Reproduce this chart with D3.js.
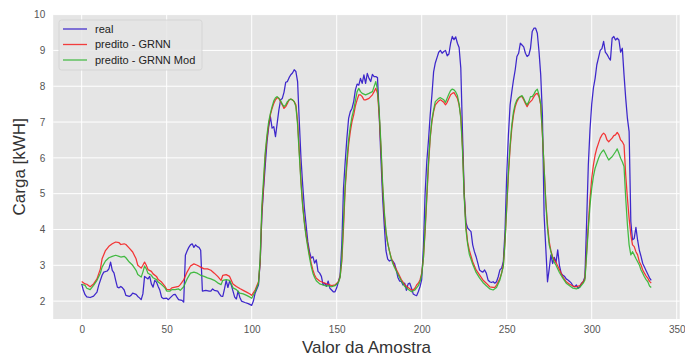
<!DOCTYPE html>
<html>
<head>
<meta charset="utf-8">
<script src="https://cdn.jsdelivr.net/npm/d3@7"></script>
<style>
  html, body { margin: 0; padding: 0; background: #ffffff; }
  svg { display: block; font-family: "Liberation Sans", Arial, sans-serif; }
</style>
</head>
<body>
<svg id="chart" width="685" height="358"></svg>
<script>
// Measured load (real) and the two GRNN forecasts, as [sample, kWh] pairs
const real = [[0,2.48],[1,2.3],[2,2.18],[3,2.12],[5,2.1],[7,2.14],[9,2.25],[10,2.44],[12,2.72],[13,2.81],[15,2.84],[16,2.9],[17,3.09],[18,2.86],[19,2.79],[20,2.58],[21,2.39],[22,2.37],[23,2.41],[24,2.37],[25,2.31],[26,2.16],[28,2.13],[29,2.16],[30,2.22],[32,2.19],[33,2.13],[34,2.09],[35,2.04],[36,2.2],[37,2.69],[38,2.65],[39,2.62],[40,2.69],[41,2.48],[42,2.39],[43,2.58],[44,2.53],[45,2.41],[46,2.3],[47,2.11],[48,2.07],[50,2.08],[51,2.04],[52,2.09],[54,2.18],[55,2.19],[56,2.11],[57,2.04],[59,2.02],[60,1.97],[61,3.28],[62,3.4],[63,3.5],[64,3.57],[65,3.6],[66,3.5],[67,3.57],[68,3.52],[69,3.5],[70,3.42],[71,2.28],[73,2.3],[75,2.28],[76,2.28],[77,2.34],[78,2.3],[80,2.28],[81,2.2],[82,2.14],[83,2.13],[84,2.34],[85,2.58],[86,2.38],[87,2.56],[88,2.45],[89,2.28],[90,2.11],[91,2.06],[92,2.28],[93,2.11],[94,2.0],[96,1.96],[98,1.93],[100,1.88],[101,2.0],[102,2.22],[104,2.45],[105,3.1],[106,4.4],[107,5.15],[108,5.8],[109,6.45],[110,6.87],[111,7.15],[112,6.83],[113,6.87],[114,6.59],[115,6.97],[116,7.34],[117,7.62],[118,7.66],[119,7.83],[120,8.11],[121,8.13],[122,8.24],[123,8.32],[124,8.37],[125,8.46],[126,8.41],[127,8.13],[128,7.01],[129,5.99],[130,5.24],[131,4.59],[132,4.13],[133,3.66],[134,3.38],[135,3.2],[136,3.24],[137,3.06],[138,3.15],[139,2.83],[140,2.78],[141,2.69],[142,2.45],[143,2.5],[144,2.41],[145,2.56],[146,2.36],[147,2.31],[148,2.26],[149,2.26],[150,2.37],[151,2.54],[152,2.72],[153,3.57],[154,5.15],[155,5.89],[156,6.55],[157,7.1],[158,7.29],[159,7.38],[160,7.57],[161,7.9],[162,8.06],[163,8.03],[164,8.22],[165,8.08],[166,8.32],[167,8.08],[168,8.36],[169,8.22],[170,8.13],[171,8.33],[172,8.27],[173,8.27],[174,8.24],[175,7.2],[176,6.0],[177,4.9],[178,4.1],[179,3.4],[180,3.17],[181,3.12],[182,3.15],[183,3.12],[184,3.05],[185,2.88],[186,2.66],[187,2.56],[188,2.55],[189,2.45],[190,2.5],[191,2.3],[192,2.48],[193,2.5],[194,2.36],[195,2.2],[196,2.17],[197,2.15],[198,2.26],[199,2.4],[200,2.6],[201,3.5],[202,5.0],[203,5.9],[204,6.5],[205,7.2],[206,7.75],[207,8.4],[208,8.65],[209,8.8],[210,8.95],[211,9.0],[212,8.92],[213,8.97],[214,9.0],[215,8.85],[216,8.9],[217,9.2],[218,9.39],[219,9.3],[220,9.38],[221,9.2],[222,9.08],[223,8.5],[224,6.7],[225,5.0],[226,4.2],[227,4.04],[228,3.99],[229,3.94],[230,3.57],[231,3.38],[232,3.24],[233,3.06],[234,2.87],[235,2.83],[236,2.81],[237,2.87],[238,2.78],[239,2.59],[240,2.54],[241,2.52],[242,2.54],[243,2.5],[244,2.54],[245,2.68],[246,2.87],[247,2.92],[248,3.1],[249,3.94],[250,5.52],[251,6.64],[252,7.48],[253,7.85],[254,8.18],[255,8.46],[256,8.83],[257,8.92],[258,9.2],[259,9.15],[260,9.1],[261,8.92],[262,8.83],[263,8.87],[264,9.06],[265,9.53],[266,9.62],[267,9.62],[268,9.48],[269,8.97],[270,8.32],[271,7.2],[272,4.4],[273,3.47],[274,2.54],[275,2.9],[276,3.29],[277,3.05],[278,3.22],[279,3.08],[280,3.43],[281,3.0],[282,2.78],[283,2.72],[284,2.69],[285,2.62],[286,2.59],[287,2.55],[288,2.5],[289,2.42],[290,2.4],[291,2.45],[292,2.36],[293,2.4],[294,2.5],[295,2.54],[296,2.68],[297,4.2],[298,5.8],[299,6.8],[300,7.5],[301,7.95],[302,8.22],[303,8.6],[304,8.8],[305,9.0],[306,9.05],[307,9.25],[308,8.95],[309,8.89],[310,8.8],[311,8.73],[312,9.34],[313,9.39],[314,9.29],[315,9.34],[316,9.29],[317,8.95],[318,9.06],[319,8.32],[320,7.66],[321,7.1],[322,6.73],[323,4.22],[324,3.71],[325,3.75],[326,4.06],[327,3.7],[328,3.42],[329,3.25],[330,3.05],[331,2.95],[332,2.85],[333,2.75],[334,2.65],[335,2.58]];

const grnn = [[0,2.55],[2,2.48],[3,2.47],[5,2.4],[7,2.48],[9,2.62],[11,2.9],[12,3.18],[14,3.41],[16,3.53],[18,3.6],[20,3.65],[22,3.63],[23,3.58],[25,3.6],[26,3.58],[28,3.48],[30,3.37],[32,3.18],[33,3.0],[35,2.92],[36,3.0],[37,3.09],[38,3.0],[39,2.88],[41,2.83],[42,2.76],[44,2.69],[45,2.6],[47,2.53],[49,2.41],[50,2.33],[52,2.32],[53,2.37],[55,2.39],[57,2.41],[58,2.46],[60,2.59],[62,2.81],[64,2.98],[66,3.04],[68,3.0],[70,2.95],[72,2.9],[74,2.9],[76,2.86],[78,2.78],[80,2.69],[82,2.58],[83,2.72],[85,2.74],[87,2.69],[89,2.48],[91,2.41],[93,2.35],[95,2.3],[97,2.25],[99,2.2],[100,2.16],[102,2.31],[104,2.54],[105,3.1],[106,4.5],[107,5.24],[108,6.08],[109,6.55],[110,6.92],[111,7.2],[112,7.38],[113,7.52],[114,7.62],[115,7.68],[116,7.66],[117,7.57],[118,7.48],[119,7.38],[120,7.43],[121,7.52],[122,7.62],[123,7.64],[124,7.62],[125,7.57],[126,7.48],[127,7.01],[128,6.17],[129,5.34],[130,4.68],[131,4.22],[132,3.85],[133,3.57],[134,3.29],[135,3.06],[136,2.87],[137,2.73],[138,2.64],[140,2.56],[142,2.52],[144,2.48],[145,2.47],[147,2.43],[149,2.45],[151,2.54],[152,2.68],[153,3.1],[154,4.03],[155,5.15],[156,5.8],[157,6.36],[158,6.73],[159,7.01],[160,7.2],[161,7.45],[162,7.62],[163,7.76],[164,7.76],[165,7.71],[166,7.62],[167,7.62],[168,7.64],[169,7.66],[170,7.71],[171,7.76],[172,7.85],[173,7.94],[174,7.8],[175,7.2],[176,6.3],[177,5.2],[178,4.4],[179,3.9],[180,3.62],[181,3.4],[182,3.22],[183,3.1],[184,2.98],[186,2.8],[188,2.6],[190,2.46],[192,2.38],[194,2.31],[195,2.31],[196,2.36],[197,2.45],[198,2.5],[199,2.59],[200,2.78],[201,3.19],[202,3.94],[203,4.87],[204,5.8],[205,6.55],[206,7.01],[207,7.29],[208,7.48],[210,7.59],[211,7.62],[212,7.59],[213,7.55],[214,7.48],[215,7.55],[216,7.66],[217,7.76],[218,7.8],[219,7.82],[220,7.74],[221,7.66],[222,7.48],[223,7.15],[224,6.3],[225,5.0],[226,4.1],[227,3.65],[228,3.42],[230,3.1],[232,2.87],[234,2.73],[236,2.59],[238,2.5],[240,2.4],[242,2.38],[243,2.38],[244,2.45],[245,2.54],[246,2.64],[247,2.78],[248,3.01],[249,3.66],[250,4.59],[251,5.52],[252,6.27],[253,6.83],[254,7.2],[255,7.43],[256,7.57],[257,7.66],[258,7.71],[259,7.71],[260,7.62],[261,7.52],[262,7.43],[263,7.52],[264,7.57],[265,7.62],[266,7.71],[267,7.78],[268,7.8],[269,7.71],[270,7.48],[271,6.64],[272,5.71],[273,4.78],[274,4.13],[275,3.66],[276,3.4],[277,3.24],[278,3.15],[279,3.08],[281,2.88],[283,2.68],[285,2.54],[287,2.47],[289,2.42],[291,2.4],[293,2.43],[295,2.54],[296,2.63],[297,3.38],[298,4.13],[299,4.87],[300,5.43],[301,5.8],[302,6.08],[303,6.27],[304,6.41],[305,6.55],[306,6.64],[307,6.69],[308,6.64],[309,6.5],[310,6.45],[311,6.5],[312,6.55],[313,6.62],[314,6.64],[315,6.71],[316,6.64],[317,6.5],[318,6.45],[319,6.36],[320,5.52],[321,4.87],[322,4.31],[323,3.85],[324,3.57],[325,3.52],[326,3.38],[327,3.29],[328,3.1],[329,3.01],[330,2.87],[331,2.78],[332,2.7],[333,2.64],[334,2.55],[335,2.5]];

const grnnMod = [[0,2.47],[2,2.44],[3,2.36],[5,2.32],[7,2.44],[9,2.58],[11,2.78],[12,2.95],[14,3.12],[16,3.21],[18,3.25],[20,3.28],[22,3.25],[23,3.23],[25,3.25],[26,3.21],[28,3.09],[30,3.0],[32,2.86],[33,2.74],[35,2.67],[36,2.81],[37,2.98],[38,2.9],[39,2.78],[41,2.72],[42,2.65],[44,2.6],[45,2.53],[47,2.46],[49,2.37],[50,2.28],[52,2.28],[53,2.32],[55,2.32],[57,2.34],[58,2.3],[60,2.4],[62,2.62],[64,2.78],[66,2.81],[68,2.78],[70,2.72],[72,2.69],[74,2.65],[76,2.62],[78,2.58],[80,2.51],[82,2.46],[83,2.58],[85,2.6],[87,2.58],[89,2.37],[91,2.32],[93,2.22],[95,2.2],[97,2.16],[99,2.11],[100,2.08],[102,2.26],[104,2.5],[105,3.2],[106,4.68],[107,5.43],[108,6.17],[109,6.64],[110,7.01],[111,7.24],[112,7.43],[113,7.59],[114,7.68],[115,7.71],[116,7.66],[117,7.59],[118,7.5],[119,7.43],[120,7.48],[121,7.57],[122,7.62],[123,7.64],[124,7.62],[125,7.57],[126,7.43],[127,6.92],[128,6.08],[129,5.29],[130,4.64],[131,4.17],[132,3.8],[133,3.5],[134,3.22],[135,2.97],[136,2.78],[137,2.66],[138,2.57],[140,2.48],[142,2.45],[144,2.42],[145,2.43],[147,2.4],[149,2.43],[151,2.52],[152,2.66],[153,3.2],[154,4.22],[155,5.24],[156,5.94],[157,6.5],[158,6.87],[159,7.15],[160,7.34],[161,7.6],[162,7.85],[163,7.94],[164,7.85],[165,7.8],[167,7.76],[168,7.78],[169,7.8],[171,7.85],[172,7.99],[173,8.13],[174,7.9],[175,7.3],[176,6.4],[177,5.3],[178,4.5],[179,3.95],[180,3.62],[181,3.4],[182,3.2],[183,3.05],[184,2.94],[186,2.75],[188,2.56],[190,2.41],[192,2.33],[194,2.26],[196,2.31],[198,2.43],[199,2.54],[200,2.73],[201,3.19],[202,4.03],[203,4.96],[204,5.89],[205,6.59],[206,7.06],[207,7.34],[208,7.57],[210,7.66],[211,7.68],[213,7.62],[214,7.55],[216,7.78],[217,7.88],[218,7.92],[219,7.9],[220,7.84],[221,7.74],[222,7.5],[223,7.1],[224,6.2],[225,4.9],[226,4.0],[227,3.6],[228,3.31],[230,3.03],[232,2.8],[234,2.65],[236,2.52],[238,2.43],[240,2.34],[242,2.31],[244,2.38],[246,2.59],[248,2.96],[249,3.66],[250,4.64],[251,5.62],[252,6.36],[253,6.92],[254,7.29],[255,7.5],[256,7.62],[257,7.68],[258,7.71],[259,7.74],[260,7.66],[261,7.55],[262,7.48],[263,7.57],[264,7.71],[265,7.71],[266,7.78],[267,7.87],[268,7.92],[269,7.76],[270,7.5],[271,6.69],[272,5.71],[273,4.73],[274,4.03],[275,3.57],[276,3.38],[277,3.2],[278,3.08],[279,3.0],[281,2.8],[283,2.64],[285,2.5],[287,2.43],[289,2.36],[291,2.34],[293,2.38],[295,2.5],[296,2.59],[297,3.29],[298,4.03],[299,4.68],[300,5.15],[301,5.48],[302,5.71],[303,5.85],[304,5.99],[305,6.1],[306,6.17],[307,6.22],[308,6.13],[309,6.03],[310,5.94],[311,5.99],[312,6.03],[313,6.1],[314,6.17],[315,6.25],[316,6.13],[317,5.99],[318,5.89],[319,5.76],[320,4.87],[321,4.13],[322,3.57],[323,3.29],[324,3.38],[325,3.29],[326,3.19],[327,3.1],[328,3.01],[329,2.87],[330,2.78],[331,2.68],[332,2.6],[333,2.54],[334,2.42],[335,2.38]];

const xTicks = [0, 50, 100, 150, 200, 250, 300, 350];
const yTicks = [2, 3, 4, 5, 6, 7, 8, 9, 10];
const seriesNames = ["real", "predito - GRNN", "predito - GRNN Mod"];
const seriesColors = ["#2a12c8", "#f42020", "#30b530"];
const xTitle = "Valor da Amostra";
const yTitle = "Carga [kWH]";

const svg = d3.select("#chart");
const plot = { left: 53.2, right: 679.7, top: 14.6, bottom: 319 };

const x = d3.scaleLinear().domain([-16.75, 351.75]).range([plot.left, plot.right]);
const y = d3.scaleLinear().domain([1.5, 10]).range([plot.bottom, plot.top]);

// plot background
svg.append("rect")
  .attr("x", plot.left).attr("y", plot.top)
  .attr("width", plot.right - plot.left).attr("height", plot.bottom - plot.top)
  .attr("fill", "#e5e5e5");

// grid
const grid = svg.append("g").attr("stroke", "#ffffff").attr("stroke-width", 1);
grid.selectAll("line.gx").data(xTicks).join("line")
  .attr("x1", d => x(d)).attr("x2", d => x(d))
  .attr("y1", plot.top).attr("y2", plot.bottom);
grid.selectAll("line.gy").data(yTicks).join("line")
  .attr("x1", plot.left).attr("x2", plot.right)
  .attr("y1", d => y(d)).attr("y2", d => y(d));

// axes (labels only, no domain line or tick marks)
const xAxis = svg.append("g")
  .attr("transform", `translate(0,${plot.bottom})`)
  .call(d3.axisBottom(x).tickValues(xTicks).tickSize(0).tickPadding(7).tickFormat(d3.format("d")));
const yAxis = svg.append("g")
  .attr("transform", `translate(${plot.left},0)`)
  .call(d3.axisLeft(y).tickValues(yTicks).tickSize(0).tickPadding(8).tickFormat(d3.format("d")));
[xAxis, yAxis].forEach(a => {
  a.select(".domain").remove();
  a.selectAll("text").attr("fill", "#555555").style("font-size", "10px")
    .style("font-family", "'Liberation Sans', Arial, sans-serif");
});

// series lines
const line = d3.line().x(d => x(d[0])).y(d => y(d[1]));
const lines = svg.append("g").attr("fill", "none");
[real, grnn, grnnMod].forEach((s, k) => {
  lines.append("path")
    .datum(s)
    .attr("d", line)
    .attr("stroke", seriesColors[k])
    .attr("stroke-width", 1.25)
    .attr("stroke-opacity", 0.9)
    .attr("stroke-linejoin", "round");
});

// axis titles
svg.append("text")
  .attr("x", (plot.left + plot.right) / 2).attr("y", 353)
  .attr("text-anchor", "middle")
  .attr("fill", "#333333").style("font-size", "17px")
  .text(xTitle);
svg.append("text")
  .attr("transform", `translate(25,${(plot.top + plot.bottom) / 2}) rotate(-90)`)
  .attr("text-anchor", "middle")
  .attr("fill", "#333333").style("font-size", "17px")
  .text(yTitle);

// legend
const legend = svg.append("g").attr("transform", "translate(59,20)");
legend.append("rect")
  .attr("width", 143).attr("height", 50).attr("rx", 2.5)
  .attr("fill", "#e5e5e5").attr("fill-opacity", 0.85)
  .attr("stroke", "#d2d2d2").attr("stroke-width", 0.8);
const items = legend.selectAll("g.item").data(seriesNames).join("g")
  .attr("transform", (d, i) => `translate(0,${9 + i * 15.5})`);
items.append("line")
  .attr("x1", 4).attr("x2", 28).attr("y1", 0).attr("y2", 0)
  .attr("stroke", (d, i) => seriesColors[i]).attr("stroke-width", 1.3).attr("stroke-opacity", 0.85);
items.append("text")
  .attr("x", 36).attr("y", 0).attr("dy", "0.35em")
  .attr("fill", "#222222").style("font-size", "11px")
  .text(d => d);
</script>
</body>
</html>
